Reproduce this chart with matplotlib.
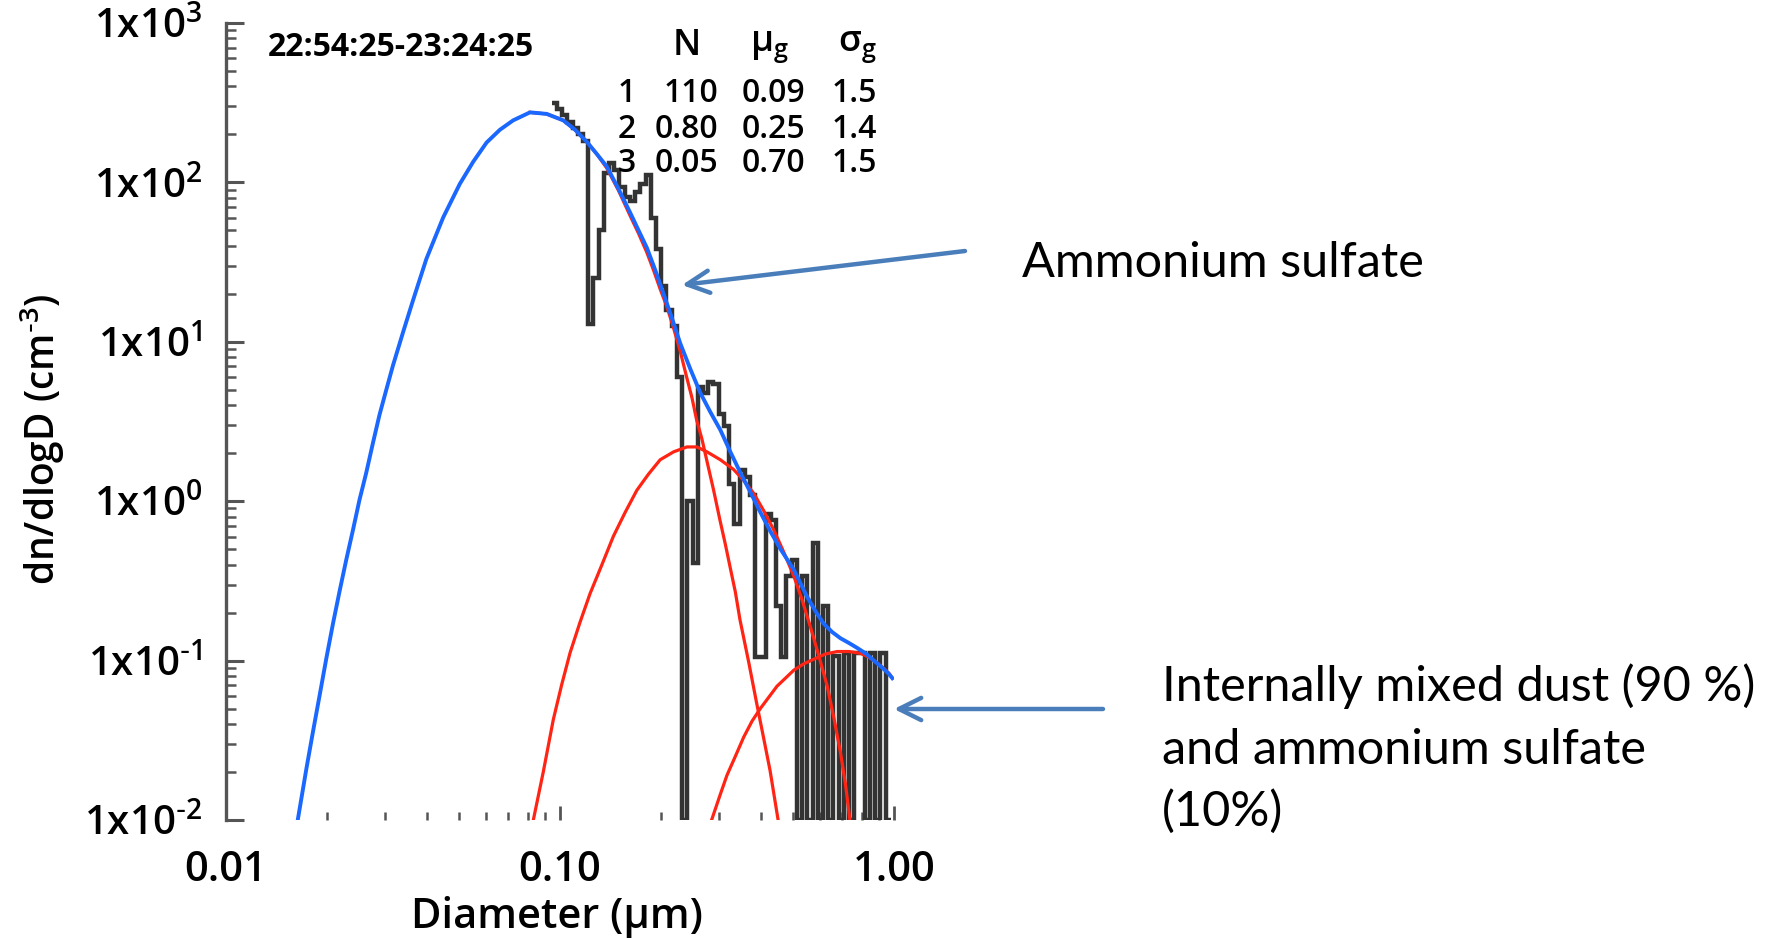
import matplotlib.pyplot as plt
from matplotlib.ticker import FixedLocator, LogLocator, NullFormatter, FuncFormatter
import numpy as np

plt.rcParams['font.family'] = ['Open Sans', 'DejaVu Sans']

W, H = 1774, 938

# sizer channel edges (um) and measured dn/dlogD in each channel (0 = empty)
bin_edges = [0.0944, 0.0979, 0.1015, 0.1052, 0.1090, 0.1130, 0.1172, 0.1214, 0.1259, 0.1305,
             0.1353, 0.1402, 0.1454, 0.1507, 0.1562, 0.1619, 0.1679, 0.1740, 0.1804, 0.1870,
             0.1938, 0.2009, 0.2083, 0.2159, 0.2239, 0.2321, 0.2405, 0.2494, 0.2585, 0.2680,
             0.2778, 0.2879, 0.2985, 0.3095, 0.3208, 0.3325, 0.3447, 0.3573, 0.3704, 0.3840,
             0.3981, 0.4126, 0.4277, 0.4434, 0.4597, 0.4765, 0.4939, 0.5120, 0.5309, 0.5502,
             0.5704, 0.5913, 0.6131, 0.6354, 0.6587, 0.6828, 0.7080, 0.7338, 0.7607, 0.7885,
             0.8175, 0.8474, 0.8784, 0.9107, 0.9441, 0.9786]
measured = [316, 288, 263, 240, 219, 200, 182, 12.9, 25.1, 50,
            115, 132, 120, 93, 81, 76, 87, 98, 112, 60,
            38, 22.4, 15.8, 12.6, 6.0, 0, 1.0, 0.41, 5.2, 4.8,
            5.6, 5.4, 3.5, 2.95, 1.29, 0.72, 1.58, 1.41, 1.10, 0.105,
            0.105, 0.83, 0.76, 0.22, 0.105, 0.34, 0.43, 0, 0.34, 0,
            0.55, 0, 0.22, 0, 0.107, 0, 0.112, 0, 0.112, 0.112,
            0, 0.112, 0, 0.112, 0]

# summed fit (blue)
total_d = [0.0164, 0.0174, 0.0182, 0.0191, 0.0200, 0.0209, 0.0219, 0.0229, 0.0240, 0.0251,
           0.0263, 0.0275, 0.0288, 0.0302, 0.0316, 0.0339, 0.0363, 0.0398, 0.0447, 0.0501,
           0.0550, 0.0603, 0.0661, 0.0724, 0.0813, 0.0912, 0.1023, 0.1109, 0.1202, 0.1288,
           0.1380, 0.1496, 0.1622, 0.1718, 0.1820, 0.1928, 0.2042, 0.2163, 0.2291, 0.2455,
           0.2630, 0.2818, 0.3020, 0.3236, 0.3467, 0.3715, 0.3981, 0.4266, 0.4571, 0.5012,
           0.5495, 0.5821, 0.6166, 0.6531, 0.6918, 0.7328, 0.7762, 0.8222, 0.8710, 0.9226,
           0.9616, 0.9886]
total_n = [0.0100, 0.0209, 0.0355, 0.0617, 0.105, 0.170, 0.275, 0.427, 0.661, 1.02,
           1.51, 2.29, 3.47, 5.01, 7.08, 11.5, 18.2, 33.1, 60.3, 97.7,
           135, 178, 214, 245, 275, 269, 245, 214, 180, 151,
           126, 91.2, 64.6, 50.1, 38.9, 28.2, 20.0, 14.1, 9.77, 6.76,
           4.79, 3.63, 2.80, 2.04, 1.51, 1.14, 0.851, 0.646, 0.501, 0.372,
           0.251, 0.204, 0.170, 0.151, 0.138, 0.129, 0.120, 0.111, 0.100, 0.0902,
           0.0832, 0.0776]

# single lognormal modes (red)
mode1_d = [0.0813, 0.0912, 0.1023, 0.1109, 0.1202, 0.1288, 0.1380, 0.1496, 0.1622, 0.1718,
           0.1820, 0.1905, 0.1995, 0.2089, 0.2183, 0.2291, 0.2393, 0.2483, 0.2564, 0.2661,
           0.2748, 0.2884, 0.3013, 0.3126, 0.3228, 0.3350, 0.3459, 0.3673, 0.3882, 0.4074,
           0.4256, 0.4498]
mode1_n = [275, 269, 245, 214, 180, 151, 123, 89.1, 61.7, 47.9,
           36.3, 28.2, 21.4, 16.6, 12.4, 8.71, 6.03, 4.47, 3.24, 2.45,
           1.82, 1.17, 0.759, 0.537, 0.389, 0.269, 0.180, 0.0977, 0.0537, 0.0324,
           0.0204, 0.0100]
mode2_d = [0.0832, 0.0891, 0.0955, 0.1012, 0.1072, 0.1148, 0.1230, 0.1334, 0.1445, 0.1567,
           0.1698, 0.1841, 0.1995, 0.2188, 0.2399, 0.2570, 0.2754, 0.3020, 0.3311, 0.3548,
           0.3802, 0.4074, 0.4365, 0.4677, 0.5012, 0.5309, 0.5623, 0.5957, 0.6310, 0.6607,
           0.6918, 0.7161, 0.7379]
mode2_n = [0.0100, 0.0200, 0.0427, 0.0708, 0.112, 0.174, 0.263, 0.398, 0.603, 0.851,
           1.17, 1.48, 1.82, 2.04, 2.19, 2.19, 2.04, 1.82, 1.58, 1.35,
           1.12, 0.871, 0.661, 0.479, 0.339, 0.240, 0.162, 0.107, 0.0692, 0.0437,
           0.0263, 0.0166, 0.0100]
mode3_d = [0.2844, 0.3020, 0.3162, 0.3350, 0.3548, 0.3758, 0.3981, 0.4217, 0.4467, 0.4732,
           0.5012, 0.5370, 0.5754, 0.6237, 0.6761, 0.7328, 0.7943, 0.8414, 0.8913, 0.9333,
           0.9661, 0.9886]
mode3_n = [0.0100, 0.0145, 0.0191, 0.0251, 0.0331, 0.0417, 0.0501, 0.0589, 0.0692, 0.0776,
           0.0871, 0.0955, 0.102, 0.110, 0.114, 0.114, 0.111, 0.105, 0.0966, 0.0891,
           0.0832, 0.0776]

# fit parameters table
mode_ids = ['1', '2', '3']
mode_N = ['110', '0.80', '0.05']
mode_mu = ['0.09', '0.25', '0.70']
mode_sigma = ['1.5', '1.4', '1.5']

y_ticks = [1e-2, 1e-1, 1e0, 1e1, 1e2, 1e3]
x_ticks = [0.01, 0.1, 1.0]
x_labels = ['0.01', '0.10', '1.00']
ymin, ymax = 1e-2, 1e3


def fx(px):
    return px / W


def fy(py):
    return 1 - py / H


def decade_label(v, pos):
    e = round(np.log10(v))
    if e < 0:
        return r'$\mathregular{1x10^{\text{-}%d}}$' % -e
    return r'$\mathregular{1x10^{%d}}$' % e


fig = plt.figure(figsize=(W / 100, H / 100), dpi=100)
ax = fig.add_axes([fx(226), fy(820), (894 - 226) / W, (820 - 23) / H])
ax.set_xscale('log')
ax.set_yscale('log')

ax.stairs(np.maximum(measured, ymin), bin_edges, baseline=None, color='#333333', lw=3.2, zorder=2)
for d, n in [(mode1_d, mode1_n), (mode2_d, mode2_n), (mode3_d, mode3_n)]:
    ax.plot(d, n, color='#ff2414', lw=2.3, zorder=3)
ax.plot(total_d, total_n, color='#1a68ff', lw=2.8, zorder=4)

ax.set_xlim(0.01, 1.0)
ax.set_ylim(ymin, ymax)

for s in ['top', 'right', 'bottom']:
    ax.spines[s].set_visible(False)
ax.spines['left'].set_color('#555555')
ax.spines['left'].set_linewidth(2.4)

ax.yaxis.set_major_locator(FixedLocator(y_ticks))
ax.yaxis.set_major_formatter(FuncFormatter(decade_label))
ax.yaxis.set_minor_locator(LogLocator(base=10, subs=range(2, 10)))
ax.yaxis.set_minor_formatter(NullFormatter())
ax.set_xticks(x_ticks)
ax.set_xticklabels(x_labels)
ax.xaxis.set_minor_locator(LogLocator(base=10, subs=range(2, 10)))
ax.xaxis.set_minor_formatter(NullFormatter())

ax.tick_params(axis='y', which='major', direction='in', length=13, width=2.2, color='#555555',
               labelsize=29, pad=17)
ax.tick_params(axis='y', which='minor', direction='in', length=7, width=1.8, color='#555555')
ax.tick_params(axis='x', which='major', direction='in', length=10, width=2.0, color='#555555',
               labelsize=30, pad=21)
ax.tick_params(axis='x', which='minor', direction='in', length=6, width=1.8, color='#555555')
for lab in ax.get_xticklabels() + ax.get_yticklabels():
    lab.set_fontweight('semibold')

ax.set_xlabel('Diameter (μm)', fontsize=30, fontweight='semibold')
ax.xaxis.set_label_coords(0.4955, -0.1215)
ax.xaxis.label.set_va('center')
ax.set_ylabel('dn/dlogD (cm$^{\\mathregular{\\text{-}3}}$)', fontsize=28, fontweight='semibold')
ax.yaxis.set_label_coords(-0.276, 0.478)
ax.yaxis.label.set_va('center')

# time window and fit table
fig.text(fx(268), fy(47), '22:54:25-23:24:25', fontsize=23, fontweight='bold', va='center', ha='left')
fig.text(fx(687), fy(46), 'N', fontsize=26, fontweight='semibold', ha='center', va='center')
fig.text(fx(770), fy(47), 'μ$_{\\mathregular{g}}$', fontsize=26, fontweight='semibold', ha='center', va='center')
fig.text(fx(857), fy(47), 'σ$_{\\mathregular{g}}$', fontsize=26, fontweight='semibold', ha='center', va='center')
row_y = [94, 129, 163]
for i in range(3):
    for col_x, val in [(636, mode_ids[i]), (718, mode_N[i]), (805, mode_mu[i]), (877, mode_sigma[i])]:
        fig.text(fx(col_x), fy(row_y[i]), val, fontsize=23, fontweight='semibold', ha='right', va='center')

# annotations
arrow_kw = dict(arrowstyle='->', color='#4a7ebb', lw=3.2, mutation_scale=40, shrinkA=0, shrinkB=0)
fig.text(fx(1022), fy(277), 'Ammonium sulfate', fontsize=35, family='Lato', va='baseline', ha='left')
ax.annotate('', xy=(682, H - 285), xycoords='figure pixels',
            xytext=(965, H - 251), textcoords='figure pixels', arrowprops=arrow_kw)
for txt, by in [('Internally mixed dust (90 %)', 701), ('and ammonium sulfate', 764), ('(10%)', 826)]:
    fig.text(fx(1162), fy(by), txt, fontsize=35, family='Lato', va='baseline', ha='left')
ax.annotate('', xy=(894, H - 709), xycoords='figure pixels',
            xytext=(1103, H - 709), textcoords='figure pixels', arrowprops=arrow_kw)

fig.savefig('out.png', dpi=100, facecolor='white')
